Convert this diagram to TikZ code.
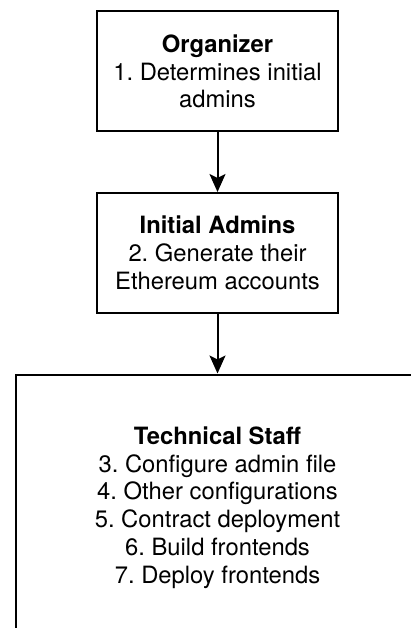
\documentclass[tikz,border=0pt]{standalone}
\usepackage{fontspec}
\setmainfont{TeX Gyre Heros}
\usetikzlibrary{positioning,arrows.meta}

\begin{document}
\frenchspacing
\begin{tikzpicture}[>={Stealth[width=16pt,length=18pt,inset=4pt]},x=1pt,y=-1pt,node distance=59.5pt,
 stepbox/.style={draw,line width=2pt,minimum width=241pt,minimum height=120pt,align=center,inner sep=0pt,font=\fontsize{23.8}{27.7}\selectfont},
 staffbox/.style={stepbox,minimum width=403pt,minimum height=266pt}]
\clip (0,0) rectangle (411,628);
\node[stepbox] (org) at (217.5,71.5) {\textbf{Organizer}\\1. Determines initial\\admins};
\node[stepbox,below=of org] (adm) {\textbf{Initial Admins}\\2. Generate their\\Ethereum accounts};
\node[staffbox,below=of adm] (staff) {\textbf{Technical Staff}\\3. Configure admin file\\4. Other configurations\\5. Contract deployment\\6. Build frontends\\7. Deploy frontends};
\draw[->,line width=2pt] (org) -- (adm);
\draw[->,line width=2pt] (adm) -- (staff);
\end{tikzpicture}
\end{document}
